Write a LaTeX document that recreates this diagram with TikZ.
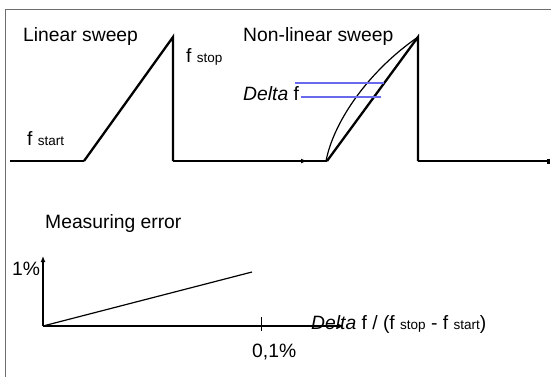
\documentclass[tikz,border=0pt]{standalone}
\usepackage{fontspec}
\setmainfont{Liberation Sans}
\usetikzlibrary{arrows.meta}
\definecolor{dblue}{RGB}{105,105,235}
\definecolor{framegray}{RGB}{110,110,110}
\newcommand{\sm}[1]{{\fontsize{13.5}{14}\selectfont #1}}
\begin{document}
\begin{tikzpicture}[x=1pt,y=-1pt,
  lbl/.style={anchor=base west,inner sep=0pt,font=\fontsize{19.3}{21}\selectfont},
  sweep/.style={line width=2.3pt,line join=miter},
  base/.style={line width=2pt},
  thinl/.style={line width=1.2pt},
  bluel/.style={draw=dblue,line width=1.2pt},
  ax/.style={line width=2.3pt,-{Latex[length=6pt,width=5pt]}}]
\useasboundingbox (0,0) rectangle (551,376);
\fill[white] (0,0) rectangle (551,376);
% frame
\draw[framegray,line width=1.5pt] (5.5,390) -- (5.5,9.5) -- (570,9.5);

% linear sweep
\coordinate (l0) at (10,161);
\coordinate (l1) at (84,161);
\coordinate (ltop) at (173,37);
\coordinate (lbot) at (173,161);
\coordinate (m0) at (255,161);
\coordinate (m1) at (307,161);
\coordinate (n0) at (327,161);
\coordinate (ntop) at (418,37);
\coordinate (nbot) at (418,161);
\coordinate (nend) at (550,161);
\draw[base] (l0) -- (l1);
\draw[sweep] (l1) -- (ltop) -- (lbot);
\draw[base] (lbot) -- (n0);
\draw[line width=2.3pt,-{Latex[length=6pt,width=5pt]}] (m0) -- (m1);
% non-linear sweep
\draw[sweep] (n0) -- (ntop) -- (nbot);
\draw[thinl] (326,161) .. controls (334,120) and (370,70) .. (ntop);
\draw[base,-{Square[length=3pt,width=5pt]}] (nbot) -- (nend);
% delta f lines
\coordinate (b1a) at (295,83);
\coordinate (b1b) at (384,83);
\coordinate (b2a) at (301,97);
\coordinate (b2b) at (381,97);
\draw[bluel] (b1a) -- (b1b);
\draw[bluel] (b2a) -- (b2b);

% labels
\node[lbl] (tlin) at (23,41) {Linear sweep};
\node[lbl] (tstop) at (186,62) {f \sm{stop}};
\node[lbl] (tstart) at (27,145) {f \sm{start}};
\node[lbl] (tnon) at (243,41) {Non-linear sweep};
\node[lbl] (tdelta) at (243,100) {\itshape Delta\upshape{} f};

% measuring error
\node[lbl] (tmeas) at (45,228) {Measuring error};
\coordinate (o) at (43,326);
\coordinate (ytop) at (43,256);
\coordinate (xend) at (344,326);
\coordinate (eend) at (252,272);
\coordinate (tk0) at (261,317);
\coordinate (tk1) at (261,331);
\draw[ax] (o) -- (ytop);
\draw[ax] (o) -- (xend);
\draw[thinl] (o) -- (eend);
\draw[line width=0.9pt] (tk0) -- (tk1);
\node[lbl] (tone) at (12,275) {1\%};
\node[lbl] (ttick) at (252,357) {0,1\%};
\node[lbl] (txlab) at (311,329) {\itshape Delta\upshape{} f / (f \sm{stop} - f \sm{start})};
\end{tikzpicture}
\end{document}
